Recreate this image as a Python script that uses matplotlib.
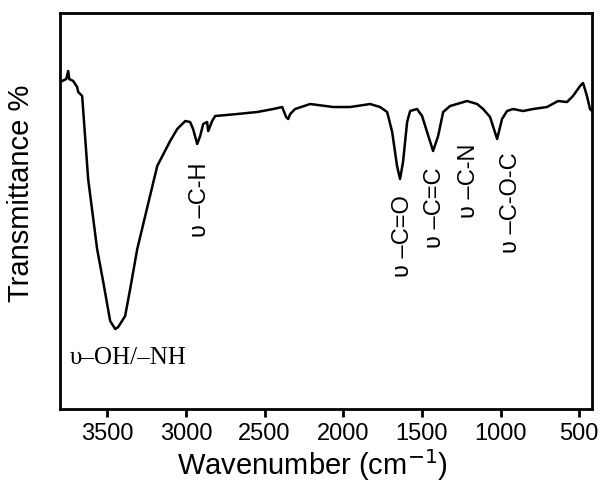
import numpy as np
import matplotlib
matplotlib.use("Agg")
import matplotlib.pyplot as plt

# FTIR spectrum (wavenumber in cm-1, transmittance in arbitrary units)
wavenumber = [3799, 3760, 3748, 3741, 3716, 3691, 3684, 3659, 3621, 3564,
              3525, 3481, 3449, 3430, 3386, 3354, 3309, 3182, 3100, 3055,
              3004, 2973, 2954, 2928, 2909, 2890, 2865, 2858, 2833, 2814,
              2674, 2547, 2445, 2388, 2363, 2350, 2337, 2306, 2210, 2064,
              1956, 1829, 1766, 1721, 1689, 1658, 1639, 1620, 1594, 1575,
              1531, 1499, 1467, 1429, 1397, 1365, 1321, 1213, 1149, 1111,
              1067, 1022, 991, 959, 921, 857, 794, 705, 635, 578,
              540, 495, 476, 451, 432, 419]
transmittance = [327, 330, 338, 330, 328, 322, 317, 313, 230, 160,
                 127, 88, 80, 82, 93, 120, 160, 243, 268, 280,
                 288, 287, 280, 265, 273, 285, 287, 278, 288, 293,
                 295, 297, 300, 302, 292, 290, 295, 300, 305, 302,
                 302, 305, 302, 297, 277, 243, 230, 247, 287, 298,
                 300, 293, 277, 258, 273, 297, 303, 308, 305, 300,
                 292, 270, 290, 298, 300, 298, 300, 302, 308, 307,
                 313, 323, 326, 313, 300, 298]

# band labels: text, wavenumber, transmittance of label centre
band_labels = ["υ –C-H", "υ –C=O", "υ –C=C", "υ –C-N", "υ –C-O-C"]
band_x = [2909, 1620, 1416, 1200, 933]
band_y = [210, 174, 202, 229, 207]

plt.rcParams['font.family'] = ['Liberation Sans', 'DejaVu Sans']

fig = plt.figure(figsize=(6.01, 4.85), dpi=100)
ax = fig.add_axes([0.0998, 0.1546, 0.885, 0.8165])

ax.plot(wavenumber, transmittance, color='black', lw=1.8)

for txt, x, y in zip(band_labels, band_x, band_y):
    ax.text(x, y, txt, rotation=90, ha='center', va='center', fontsize=17)

ax.text(3735, 52, "υ–OH/–NH", family=['Liberation Serif', 'DejaVu Serif'],
        fontsize=18, ha='left', va='center')

ax.set_xlim(3800, 420)
ax.set_ylim(0, 396)
ax.set_xticks([3500, 3000, 2500, 2000, 1500, 1000, 500])
ax.set_yticks([])
ax.tick_params(axis='x', direction='out', length=6, width=2, labelsize=17, pad=3)
for s in ax.spines.values():
    s.set_linewidth(2)

ax.set_xlabel("Wavenumber (cm$^{-1}$)", fontsize=21)
ax.xaxis.set_label_coords(0.474, -0.093)
ax.set_ylabel("Transmittance %", fontsize=21)
ax.yaxis.set_label_coords(-0.047, 0.548)

fig.savefig("out.png", dpi=100)
